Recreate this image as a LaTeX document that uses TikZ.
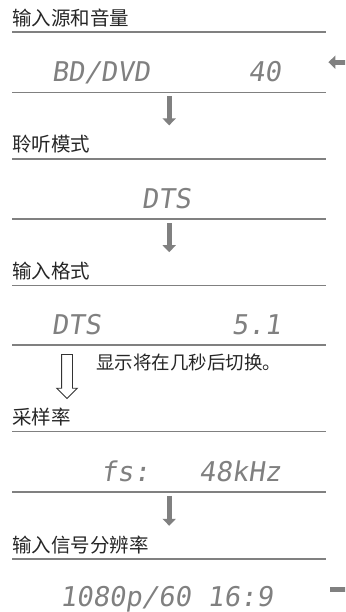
\documentclass[tikz,border=0pt]{standalone}
\usepackage{fontspec}
\newfontfamily\cjk{Noto Sans CJK SC}
\newfontfamily\lcdfont[FakeSlant=0.15]{DejaVu Sans Mono}
\usetikzlibrary{arrows.meta,positioning,shapes.arrows}
\tikzstyle{ttl}=[text width=314pt,align=left,minimum height=28pt,inner sep=0pt,font=\cjk\fontsize{19.5}{21}\selectfont,text=black!85]
\tikzstyle{disp}=[minimum width=314pt,minimum height=40pt,inner sep=0pt,font=\lcdfont\fontsize{27.2}{30}\selectfont,text=black!50,execute at end node={\hspace*{6pt}}]
\tikzstyle{note}=[inner sep=0pt,font=\cjk\fontsize{18.5}{20}\selectfont,text=black!85]
\tikzstyle{hollow}=[single arrow,draw=black!80,line width=0.9pt,shape border rotate=270,minimum height=44pt,inner sep=5pt,single arrow head extend=4.8pt]
\tikzstyle{hrule}=[draw=gray,line width=1.6pt]
\tikzstyle{flow}=[-{Triangle[width=13pt,length=7pt]},draw=gray,line width=5pt,shorten <=4pt,shorten >=5pt]
\tikzstyle{loopback}=[-{Triangle[width=13pt,length=7pt]},draw=gray,line width=5pt]

\begin{document}
\begin{tikzpicture}[x=1pt,y=-1pt]
\useasboundingbox (0,0) rectangle (345,612);
\clip (0,0) rectangle (345,612);
\node[ttl, anchor=south west] (t1) at (12,32) {输入源和音量};
\node[disp, below=20pt of t1] (d1) {BD/DVD~~~~~~40};
\node[ttl, below=38pt of d1] (t2) {聆听模式};
\node[disp, below=20pt of t2] (d2) {~~~~~DTS~~~~~~};
\node[ttl, below=38pt of d2] (t3) {输入格式};
\node[disp, below=19pt of t3] (d3) {DTS~~~~~~~~5.1};
\node[ttl, below=58pt of d3] (t4) {采样率};
\node[disp, below=20pt of t4] (d4) {~~~fs:~~~48kHz};
\node[ttl, below=39pt of d4] (t5) {输入信号分辨率};
\node[disp, below=20pt of t5] (d5) {1080p/60~16:9~};
\node[hollow, anchor=tail] (wait) at ([xshift=55pt,yshift=-9pt]d3.south west) {};
\node[note, below right=0pt and 29pt of wait.tail] (msg) {显示将在几秒后切换。};
\coordinate (loopout) at ([xshift=4pt,yshift=10pt]d5.east);
\coordinate (loopin) at ([xshift=2pt,yshift=10pt]d1.east);
\draw[hrule] (t1.south west) -- (t1.south east);
\draw[hrule] (d1.south west) -- (d1.south east);
\draw[hrule] (t2.south west) -- (t2.south east);
\draw[hrule] (d2.south west) -- (d2.south east);
\draw[hrule] (t3.south west) -- (t3.south east);
\draw[hrule] (d3.south west) -- (d3.south east);
\draw[hrule] (t4.south west) -- (t4.south east);
\draw[hrule] (d4.south west) -- (d4.south east);
\draw[hrule] (t5.south west) -- (t5.south east);
\draw[flow] (d1) -- (t2);
\draw[flow] (d2) -- (t3);
\draw[flow] (d4) -- (t5);
\draw[loopback] (loopout) -- ++(40pt,0) |- (loopin);
\end{tikzpicture}
\end{document}
